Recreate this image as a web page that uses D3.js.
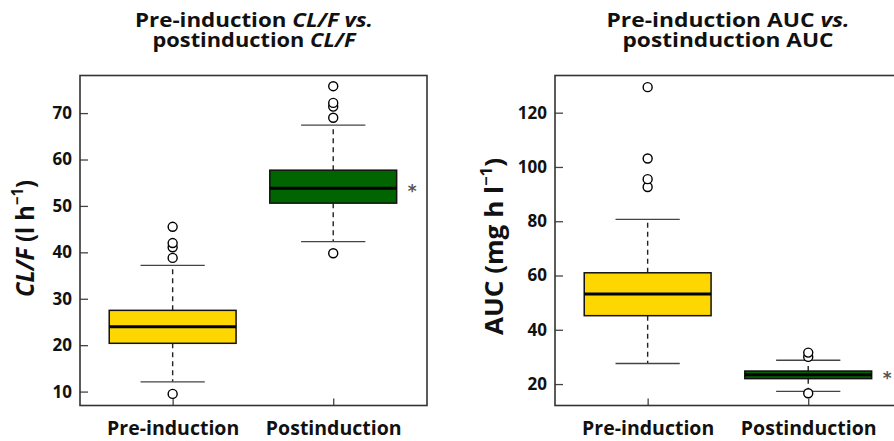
<!DOCTYPE html>
<html><head><meta charset="utf-8">
<script src="https://cdn.jsdelivr.net/npm/d3@7"></script>
<style>
body{margin:0;background:#fff;}
svg{display:block;font-family:"Open Sans",sans-serif;}
</style></head>
<body><svg id="c" width="894" height="441"></svg>
<script>
const categories = ["Pre-induction", "Postinduction"];
// CL/F boxplot stats: [lowerWhisker, Q1, median, Q3, upperWhisker]
const clfStats = [[12.1, 20.4, 23.95, 27.5, 37.2], [42.3, 50.6, 53.8, 57.7, 67.4]];
const clfOutliers = [[9.5, 38.8, 41.1, 42.0, 45.5], [39.8, 69.0, 71.4, 72.2, 75.8]];
const clfTicks = [10, 20, 30, 40, 50, 60, 70];
// AUC boxplot stats
const aucStats = [[27.6, 45.2, 53.2, 61.0, 80.7], [17.3, 22.0, 23.4, 24.8, 28.8]];
const aucOutliers = [[92.6, 95.5, 103.1, 129.4], [16.6, 30.0, 31.6]];
const aucTicks = [20, 40, 60, 80, 100, 120];
const fillColors = ["#FFD700", "#006400"];

const svg = d3.select("#c");
const FF = "'Open Sans', sans-serif";
const FW = 700;

function panel(opts) {
  const {x0, x1, y0, y1, ydom, stats, outliers, ticks, titleLines, titleLens, ylabel, cx} = opts;
  const g = svg.append("g");
  const x = d3.scaleLinear().domain([0.423, 2.584]).range([x0, x1]);
  const y = d3.scaleLinear().domain(ydom).range([y1, y0]);
  const boxHalf = 0.395, capHalf = 0.2;

  titleLines.forEach((parts, i) => {
    const t = g.append("text").attr("text-anchor", "middle").attr("font-size", 19.5)
      .attr("font-weight", FW).attr("fill", "#111").attr("font-family", FF)
      .attr("x", cx).attr("y", 27 + i * 19.5)
      .attr("textLength", titleLens[i]).attr("lengthAdjust", "spacingAndGlyphs");
    parts.forEach(p => t.append("tspan").attr("font-style", p[1] ? "italic" : "normal").text(p[0]));
  });

  const yAxis = d3.axisLeft(y).tickValues(ticks).tickSize(-8).tickPadding(8);
  const ya = g.append("g").attr("transform", `translate(${x0},0)`).call(yAxis);
  ya.select(".domain").remove();
  ya.selectAll("line").attr("stroke", "#444").attr("stroke-width", 1.3);
  ya.selectAll("text").attr("font-size", 17).attr("font-weight", FW).attr("fill", "#111")
    .attr("font-family", FF);
  const xAxis = d3.axisBottom(x).tickValues([1, 2]).tickSize(-7).tickFormat((d) => categories[d - 1]).tickPadding(16);
  const xa = g.append("g").attr("transform", `translate(0,${y1})`).call(xAxis);
  xa.select(".domain").remove();
  xa.selectAll("line").attr("stroke", "#444").attr("stroke-width", 1.3);
  xa.selectAll("text").attr("font-size", 19.5).attr("font-weight", FW).attr("fill", "#111")
    .attr("font-family", FF);

  g.append("rect").attr("x", x0).attr("y", y0).attr("width", x1 - x0).attr("height", y1 - y0)
    .attr("fill", "none").attr("stroke", "#333").attr("stroke-width", 1.6);

  const yl = g.append("text").attr("transform", `translate(${opts.ylx},${opts.yly}) rotate(-90)`)
    .attr("text-anchor", "middle").attr("font-size", 25).attr("font-weight", FW).attr("fill", "#111")
    .attr("font-family", FF).attr("textLength", opts.ylen).attr("lengthAdjust", "spacingAndGlyphs");
  ylabel.forEach(p => {
    const ts = yl.append("tspan").attr("font-style", p[1] ? "italic" : "normal").text(p[0]);
    if (p[2]) ts.attr("baseline-shift", "super").attr("font-size", 16);
  });

  stats.forEach((s, i) => {
    const c = i + 1;
    const [lw, q1, med, q3, uw] = s;
    g.append("line").attr("x1", x(c)).attr("x2", x(c)).attr("y1", y(q3)).attr("y2", y(uw))
      .attr("stroke", "#222").attr("stroke-width", 1.4).attr("stroke-dasharray", "5,4");
    g.append("line").attr("x1", x(c)).attr("x2", x(c)).attr("y1", y(q1)).attr("y2", y(lw))
      .attr("stroke", "#222").attr("stroke-width", 1.4).attr("stroke-dasharray", "5,4");
    [lw, uw].forEach(v => g.append("line").attr("x1", x(c - capHalf)).attr("x2", x(c + capHalf))
      .attr("y1", y(v)).attr("y2", y(v)).attr("stroke", "#444").attr("stroke-width", 1.4));
    g.append("rect").attr("x", x(c - boxHalf)).attr("y", y(q3)).attr("width", x(c + boxHalf) - x(c - boxHalf))
      .attr("height", y(q1) - y(q3)).attr("fill", fillColors[i]).attr("stroke", "#111").attr("stroke-width", 1.5);
    g.append("line").attr("x1", x(c - boxHalf)).attr("x2", x(c + boxHalf)).attr("y1", y(med)).attr("y2", y(med))
      .attr("stroke", "#000").attr("stroke-width", 3);
    outliers[i].forEach(v => g.append("circle").attr("cx", x(c)).attr("cy", y(v)).attr("r", 4.5)
      .attr("fill", "#fff").attr("stroke", "#000").attr("stroke-width", 1.4));
  });
  g.append("text").attr("x", x(2) + 79).attr("y", y(stats[1][2]) + 9).attr("text-anchor", "middle")
    .attr("font-size", 17).attr("font-weight", 700).attr("fill", "#555").attr("font-family", "DejaVu Sans").text("*");
}

panel({x0: 80, x1: 427, y0: 75.5, y1: 405.5, ydom: [7, 78.1], stats: clfStats, outliers: clfOutliers,
  ticks: clfTicks, cx: 254, ylx: 34, yly: 238.5, ylen: 117,
  titleLines: [[["Pre-induction ", 0], ["CL/F vs.", 1]], [["postinduction ", 0], ["CL/F", 1]]],
  titleLens: [238, 203],
  ylabel: [["CL/F", 1], [" (l h", 0], ["−1", 0, 1], [")", 0]]});
panel({x0: 555, x1: 902, y0: 75.5, y1: 405.5, ydom: [12.1, 133.7], stats: aucStats, outliers: aucOutliers,
  ticks: aucTicks, cx: 728, ylx: 503, yly: 246.5, ylen: 177,
  titleLines: [[["Pre-induction AUC ", 0], ["vs.", 1]], [["postinduction AUC", 0]]],
  titleLens: [243, 211],
  ylabel: [["AUC (mg h l", 0], ["−1", 0, 1], [")", 0]]});
</script></body></html>
